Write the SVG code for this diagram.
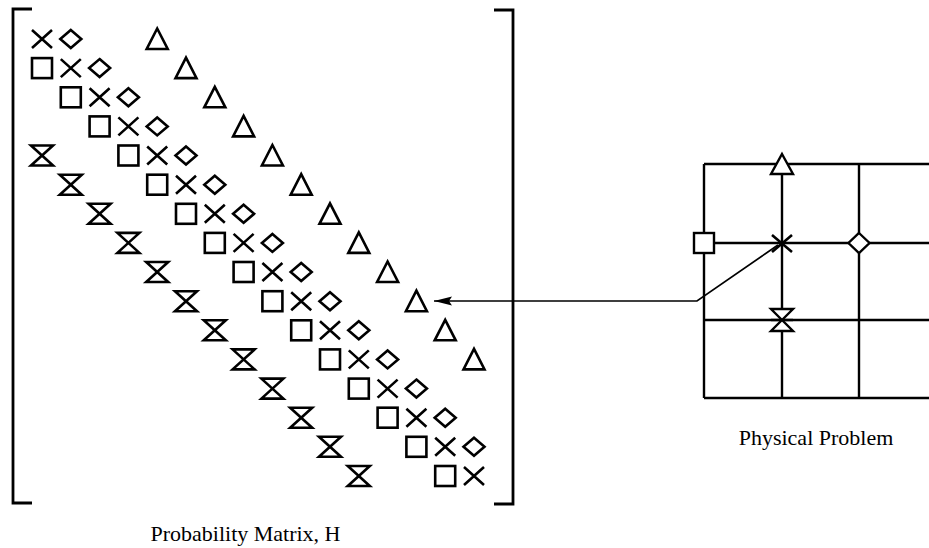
<svg xmlns="http://www.w3.org/2000/svg" xmlns:xlink="http://www.w3.org/1999/xlink" width="929" height="548" viewBox="0 0 929 548">
<style>
.sym{fill:none;stroke:#000;stroke-width:2.6;stroke-linejoin:miter}
.gsym{fill:#fff;stroke:#000;stroke-width:2.4}
.br{fill:none;stroke:#000;stroke-width:2.8}
.grid{fill:none;stroke:#000;stroke-width:2.4}
.conn{fill:none;stroke:#000;stroke-width:1.7}
.lbl{font-family:"Liberation Serif","Times New Roman",serif;font-size:22px;fill:#000}
</style>
<defs>
<g id="X"><path class="sym" d="M-10,-9L10,9M-10,9L10,-9"/></g>
<g id="S"><rect class="sym" x="-10" y="-10" width="20" height="20"/></g>
<g id="D"><path class="sym" d="M0,-9L10.5,0L0,9L-10.5,0Z"/></g>
<g id="T"><path class="sym" d="M0,-10.5L10.5,10L-10.5,10Z"/></g>
<g id="H"><path class="sym" d="M-11,-10L11,-10L-11,10L11,10Z"/></g>
<marker id="ah" markerUnits="userSpaceOnUse" markerWidth="22" markerHeight="12" viewBox="-20 -6 22 12" refX="0" refY="0" orient="auto">
<path d="M0,0L-18,-4.5L-15,0L-18,4.5Z" fill="#000"/>
</marker>
</defs>
<g id="matrix">
<path class="br" d="M32,9H13V503H32"/>
<path class="br" d="M494,10H513V504H494"/>
<use xlink:href="#X" x="42" y="39"/><use xlink:href="#D" x="70.8" y="39"/><use xlink:href="#T" x="157.2" y="39"/>
<use xlink:href="#S" x="42" y="68.1"/><use xlink:href="#X" x="70.8" y="68.1"/><use xlink:href="#D" x="99.6" y="68.1"/><use xlink:href="#T" x="186" y="68.1"/>
<use xlink:href="#S" x="70.8" y="97.3"/><use xlink:href="#X" x="99.6" y="97.3"/><use xlink:href="#D" x="128.4" y="97.3"/><use xlink:href="#T" x="214.8" y="97.3"/>
<use xlink:href="#S" x="99.6" y="126.4"/><use xlink:href="#X" x="128.4" y="126.4"/><use xlink:href="#D" x="157.2" y="126.4"/><use xlink:href="#T" x="243.6" y="126.4"/>
<use xlink:href="#H" x="42" y="155.5"/><use xlink:href="#S" x="128.4" y="155.5"/><use xlink:href="#X" x="157.2" y="155.5"/><use xlink:href="#D" x="186" y="155.5"/><use xlink:href="#T" x="272.4" y="155.5"/>
<use xlink:href="#H" x="70.8" y="184.7"/><use xlink:href="#S" x="157.2" y="184.7"/><use xlink:href="#X" x="186" y="184.7"/><use xlink:href="#D" x="214.8" y="184.7"/><use xlink:href="#T" x="301.2" y="184.7"/>
<use xlink:href="#H" x="99.6" y="213.8"/><use xlink:href="#S" x="186" y="213.8"/><use xlink:href="#X" x="214.8" y="213.8"/><use xlink:href="#D" x="243.6" y="213.8"/><use xlink:href="#T" x="330" y="213.8"/>
<use xlink:href="#H" x="128.4" y="242.9"/><use xlink:href="#S" x="214.8" y="242.9"/><use xlink:href="#X" x="243.6" y="242.9"/><use xlink:href="#D" x="272.4" y="242.9"/><use xlink:href="#T" x="358.8" y="242.9"/>
<use xlink:href="#H" x="157.2" y="272"/><use xlink:href="#S" x="243.6" y="272"/><use xlink:href="#X" x="272.4" y="272"/><use xlink:href="#D" x="301.2" y="272"/><use xlink:href="#T" x="387.6" y="272"/>
<use xlink:href="#H" x="186" y="301.2"/><use xlink:href="#S" x="272.4" y="301.2"/><use xlink:href="#X" x="301.2" y="301.2"/><use xlink:href="#D" x="330" y="301.2"/><use xlink:href="#T" x="416.4" y="301.2"/>
<use xlink:href="#H" x="214.8" y="330.3"/><use xlink:href="#S" x="301.2" y="330.3"/><use xlink:href="#X" x="330" y="330.3"/><use xlink:href="#D" x="358.8" y="330.3"/><use xlink:href="#T" x="445.2" y="330.3"/>
<use xlink:href="#H" x="243.6" y="359.4"/><use xlink:href="#S" x="330" y="359.4"/><use xlink:href="#X" x="358.8" y="359.4"/><use xlink:href="#D" x="387.6" y="359.4"/><use xlink:href="#T" x="474" y="359.4"/>
<use xlink:href="#H" x="272.4" y="388.6"/><use xlink:href="#S" x="358.8" y="388.6"/><use xlink:href="#X" x="387.6" y="388.6"/><use xlink:href="#D" x="416.4" y="388.6"/>
<use xlink:href="#H" x="301.2" y="417.7"/><use xlink:href="#S" x="387.6" y="417.7"/><use xlink:href="#X" x="416.4" y="417.7"/><use xlink:href="#D" x="445.2" y="417.7"/>
<use xlink:href="#H" x="330" y="446.8"/><use xlink:href="#S" x="416.4" y="446.8"/><use xlink:href="#X" x="445.2" y="446.8"/><use xlink:href="#D" x="474" y="446.8"/>
<use xlink:href="#H" x="358.8" y="476"/><use xlink:href="#S" x="445.2" y="476"/><use xlink:href="#X" x="474" y="476"/>
</g>
<g id="matrix-label"><text class="lbl" x="245.5" y="541" text-anchor="middle">Probability Matrix, H</text></g>
<g id="physical-problem">
<path class="grid" d="M704,164H929M704,243H929M704,320H929M704,398H929M704,164V398M782,164V398M859,164V398"/>
<path class="gsym" d="M782,154L793,174L771,174Z"/>
<rect class="gsym" x="694" y="233" width="20" height="20"/>
<path class="gsym" d="M859,233L869.5,243L859,253L848.5,243Z"/>
<path class="sym" d="M772,235L792,252M772,252L792,235"/>
<path class="gsym" d="M771,309L793,309L771,331L793,331Z"/>
<path class="grid" d="M771,320H793"/>
</g>
<g id="physical-label"><text class="lbl" x="816" y="445" text-anchor="middle">Physical Problem</text></g>
<g id="connectors">
<path class="conn" d="M778,245L697,301H434" marker-end="url(#ah)"/>
</g>
</svg>
